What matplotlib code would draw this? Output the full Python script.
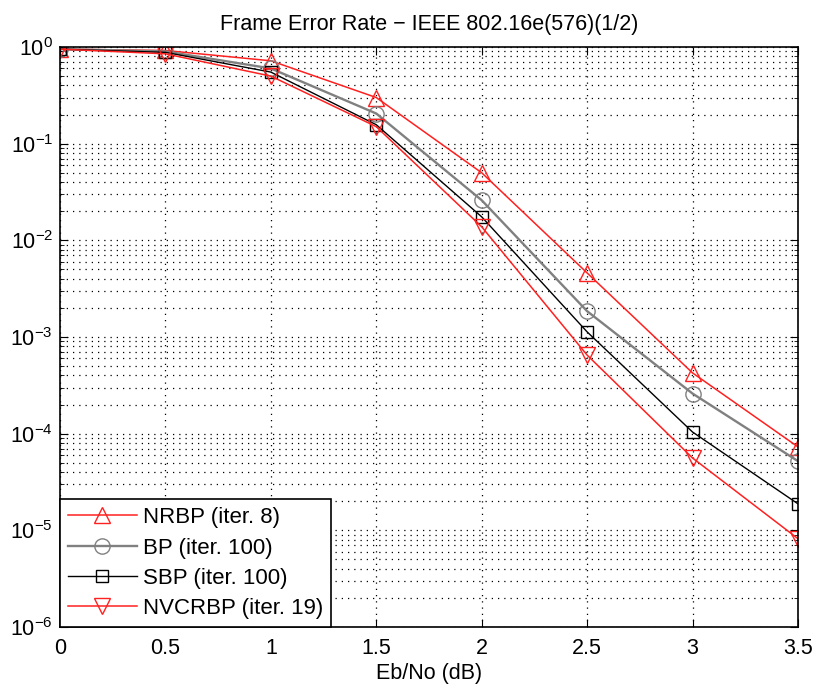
#!/usr/bin/env python3
"""Frame error rate curves, IEEE 802.16e (576)(1/2)."""
import matplotlib
matplotlib.use('Agg')
import matplotlib.pyplot as plt
from matplotlib.ticker import LogLocator, NullFormatter

plt.rcParams['font.family'] = ['Liberation Sans', 'DejaVu Sans']

EBNO = [0, 0.5, 1, 1.5, 2, 2.5, 3, 3.5]

NRBP = [0.95, 0.92, 0.72, 0.30, 0.050, 4.6e-3, 4.25e-4, 7.3e-5]
BP = [0.95, 0.90, 0.60, 0.205, 0.026, 1.85e-3, 2.6e-4, 5.2e-5]
SBP = [0.95, 0.88, 0.55, 0.157, 0.0175, 1.13e-3, 1.04e-4, 1.88e-5]
NVCRBP = [0.95, 0.85, 0.50, 0.150, 0.0138, 6.5e-4, 5.6e-5, 8.2e-6]

LABELS = ['NRBP (iter. 8)', 'BP (iter. 100)', 'SBP (iter. 100)', 'NVCRBP (iter. 19)']

fig = plt.figure(figsize=(8.15, 6.86), dpi=100)
ax = fig.add_axes([0.0736, 0.086, 0.9055, 0.8455])

ax.semilogy(EBNO, NRBP, color='#ff2020', marker='^', mfc='none', ms=11, lw=1.1, label=LABELS[0])
ax.semilogy(EBNO, BP, color='#808080', marker='o', mfc='none', ms=11, lw=1.7, label=LABELS[1])
ax.semilogy(EBNO, SBP, color='black', marker='s', mfc='none', ms=9, lw=1, label=LABELS[2])
ax.semilogy(EBNO, NVCRBP, color='#ff2020', marker='v', mfc='none', ms=11, lw=1.1, label=LABELS[3])

ax.set_xlim(0, 3.5)
ax.set_ylim(1e-6, 1)
ax.set_xticks([0, 0.5, 1, 1.5, 2, 2.5, 3, 3.5])
ax.set_xticklabels(['0', '0.5', '1', '1.5', '2', '2.5', '3', '3.5'])
ax.yaxis.set_major_locator(LogLocator(base=10, numticks=10))
ax.yaxis.set_minor_locator(LogLocator(base=10, subs=range(2, 10), numticks=10))
ax.yaxis.set_minor_formatter(NullFormatter())

ax.tick_params(which='both', direction='in', top=True, right=True, labelsize=15.5)
ax.tick_params(which='major', length=6)
ax.tick_params(which='minor', length=3)
ax.tick_params(axis='x', pad=8)
ax.tick_params(axis='y', pad=5)

ax.grid(True, which='major', color='black', linestyle=(0, (1, 4)), linewidth=0.9)
ax.grid(True, which='minor', axis='y', color='black', linestyle=(0, (1, 4)), linewidth=0.9)
for s in ax.spines.values():
    s.set_linewidth(1.2)

ax.set_title('Frame Error Rate \u2212 IEEE 802.16e(576)(1/2)', fontsize=15.5, pad=12)
ax.set_xlabel('Eb/No (dB)', fontsize=15.5, labelpad=3)

leg = ax.legend(loc='lower left', fontsize=16, fancybox=False, edgecolor='black',
                framealpha=1, borderaxespad=0, handlelength=3.1, labelspacing=0.42,
                borderpad=0.35, handletextpad=0.3)
leg.get_frame().set_linewidth(1.2)

fig.savefig('out.png', dpi=100)
